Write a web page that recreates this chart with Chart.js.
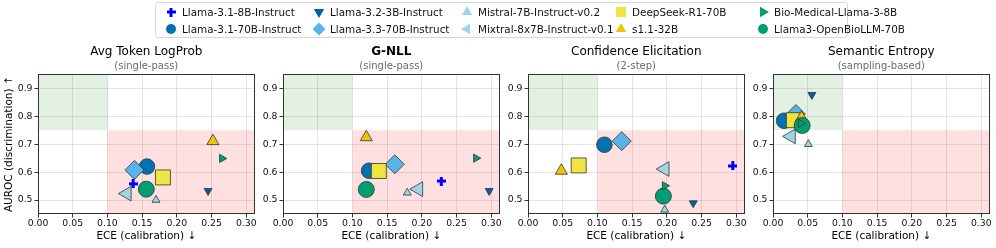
<!DOCTYPE html>
<html>
<head>
<meta charset="utf-8">
<script src="https://cdn.jsdelivr.net/npm/chart.js@4.4.1/dist/chart.umd.min.js"></script>
<style>
  html, body { margin: 0; padding: 0; background: #fff; }
  body { width: 996px; height: 248px; position: relative; overflow: hidden; font-family: 'DejaVu Sans', sans-serif; }
  .panel { position: absolute; top: 40px; }
  #legend { position: absolute; left: 155px; top: 2px; width: 693px; height: 36px; border: 1px solid #d6d6d6; border-radius: 3px; box-sizing: border-box; }
  .legend-item { position: absolute; display: flex; align-items: center; font-size: 10.4px; color: #111; white-space: nowrap; }
  .legend-item canvas { margin-right: 4px; }
</style>
</head>
<body>
<div id="legend"></div>
<canvas id="panel0" class="panel"></canvas>
<canvas id="panel1" class="panel"></canvas>
<canvas id="panel2" class="panel"></canvas>
<canvas id="panel3" class="panel"></canvas>
<script>
const MODELS = [
  'Llama-3.1-8B-Instruct',
  'Llama-3.1-70B-Instruct',
  'Llama-3.2-3B-Instruct',
  'Llama-3.3-70B-Instruct',
  'Mistral-7B-Instruct-v0.2',
  'Mixtral-8x7B-Instruct-v0.1',
  'DeepSeek-R1-70B',
  's1.1-32B',
  'Bio-Medical-Llama-3-8B',
  'Llama3-OpenBioLLM-70B',
];

const METHODS = ['Avg Token LogProb', 'G-NLL', 'Confidence Elicitation', 'Semantic Entropy'];
const METHOD_NOTES = ['(single-pass)', '(single-pass)', '(2-step)', '(sampling-based)'];

// ECE (x) and AUROC (y), one value per model in MODELS order
const ECE_LOGPROB = [0.137, 0.157, 0.245, 0.139, 0.170, 0.128, 0.180, 0.252, 0.265, 0.156];
const AUROC_LOGPROB = [0.558, 0.620, 0.533, 0.608, 0.500, 0.523, 0.581, 0.711, 0.649, 0.539];

const ECE_GNLL = [0.228, 0.124, 0.297, 0.161, 0.179, 0.195, 0.138, 0.120, 0.278, 0.120];
const AUROC_GNLL = [0.568, 0.605, 0.533, 0.628, 0.526, 0.539, 0.604, 0.725, 0.650, 0.538];

const ECE_VERBAL = [0.295, 0.110, 0.238, 0.135, 0.197, 0.197, 0.073, 0.048, 0.197, 0.195];
const AUROC_VERBAL = [0.622, 0.698, 0.489, 0.711, 0.465, 0.611, 0.624, 0.605, 0.551, 0.514];

const ECE_SEMANTIC = [0.030, 0.016, 0.056, 0.033, 0.051, 0.026, 0.030, 0.041, 0.040, 0.042];
const AUROC_SEMANTIC = [0.788, 0.784, 0.877, 0.808, 0.700, 0.728, 0.786, 0.795, 0.775, 0.767];

const ECE_BY_METHOD = [ECE_LOGPROB, ECE_GNLL, ECE_VERBAL, ECE_SEMANTIC];
const AUROC_BY_METHOD = [AUROC_LOGPROB, AUROC_GNLL, AUROC_VERBAL, AUROC_SEMANTIC];

const X_TICKS = [0, 0.05, 0.1, 0.15, 0.2, 0.25, 0.3];
const Y_TICKS = [0.5, 0.6, 0.7, 0.8, 0.9];
const X_RANGE = [0, 0.312];
const Y_RANGE = [0.45, 0.95];

// target zones: good = low ECE and high AUROC, poor = high ECE and low AUROC
const ECE_CUT = 0.1;
const AUROC_CUT = 0.75;

const EDGE = '#333333';
const MARKERS = [
  { shape: 'plus', color: '#0000ff', radius: 4.5, rotation: 0 },
  { shape: 'circle', color: '#0072b2', radius: 7.8, rotation: 0 },
  { shape: 'triangle', color: '#005fae', radius: 4.6, rotation: 180 },
  { shape: 'rectRot', color: '#56b4e9', radius: 9.5, rotation: 0 },
  { shape: 'triangle', color: '#9fd6e3', radius: 4.6, rotation: 0 },
  { shape: 'triangle', color: '#9fd6e3', radius: 8.5, rotation: 270 },
  { shape: 'rect', color: '#f0e442', radius: 10.6, rotation: 0 },
  { shape: 'triangle', color: '#f0c20a', radius: 7, rotation: 0 },
  { shape: 'triangle', color: '#009e73', radius: 4.8, rotation: 90 },
  { shape: 'circle', color: '#009e73', radius: 8, rotation: 0 },
];
// later models drawn on top; the small green flag sits above everything
const DRAW_ORDER = [9, 8, 7, 6, 5, 4, 3, 2, -1, 0];

const LEGEND_COLS = [15, 163, 311, 465, 607];
const LEGEND_ROWS = [9, 26];

Chart.defaults.font.family = "'DejaVu Sans', sans-serif";
Chart.defaults.color = '#111';

function plusImage(size, color) {
  const c = document.createElement('canvas');
  c.width = size;
  c.height = size;
  const ctx = c.getContext('2d');
  const arm = size / 3;
  ctx.fillStyle = color;
  ctx.fillRect(arm, 0, arm, size);
  ctx.fillRect(0, arm, size, arm);
  return c;
}

const PLUS = plusImage(9, MARKERS[0].color);

function pointStyleOf(m) {
  return m.shape === 'plus' ? PLUS : m.shape;
}

// small shapes for the html legend
function drawLegendIcon(ctx, m, cx, cy) {
  ctx.fillStyle = m.color;
  if (m.shape === 'plus') {
    ctx.drawImage(PLUS, cx - 4.5, cy - 4.5);
    return;
  }
  ctx.beginPath();
  if (m.shape === 'circle') {
    ctx.arc(cx, cy, 5, 0, Math.PI * 2);
  } else if (m.shape === 'rect') {
    ctx.rect(cx - 5, cy - 5, 10, 10);
  } else if (m.shape === 'rectRot') {
    ctx.moveTo(cx, cy - 6.5);
    ctx.lineTo(cx + 6.5, cy);
    ctx.lineTo(cx, cy + 6.5);
    ctx.lineTo(cx - 6.5, cy);
  } else {
    let rad = m.rotation * Math.PI / 180;
    const r = 6;
    for (let k = 0; k < 3; k++) {
      const px = cx + Math.sin(rad) * r;
      const py = cy - Math.cos(rad) * r;
      if (k === 0) ctx.moveTo(px, py); else ctx.lineTo(px, py);
      rad += Math.PI * 2 / 3;
    }
  }
  ctx.closePath();
  ctx.fill();
}

function buildLegend() {
  const box = document.getElementById('legend');
  MODELS.forEach((name, i) => {
    const item = document.createElement('div');
    item.className = 'legend-item';
    item.style.left = (LEGEND_COLS[Math.floor(i / 2)] - 7) + 'px';
    item.style.top = (LEGEND_ROWS[i % 2] - 7) + 'px';
    const icon = document.createElement('canvas');
    icon.width = 14;
    icon.height = 14;
    drawLegendIcon(icon.getContext('2d'), MARKERS[i], 7, 7);
    const label = document.createElement('span');
    label.textContent = name;
    item.appendChild(icon);
    item.appendChild(label);
    box.appendChild(item);
  });
}

const zoneShading = {
  id: 'zoneShading',
  beforeDraw(chart) {
    const { ctx, chartArea, scales: { x, y } } = chart;
    const fillZone = (x0, x1, y0, y1, color) => {
      const left = Math.max(x.getPixelForValue(x0), chartArea.left);
      const right = Math.min(x.getPixelForValue(x1), chartArea.right);
      const top = Math.max(y.getPixelForValue(y1), chartArea.top);
      const bottom = Math.min(y.getPixelForValue(y0), chartArea.bottom);
      ctx.fillStyle = color;
      ctx.fillRect(left, top, right - left, bottom - top);
    };
    ctx.save();
    fillZone(X_RANGE[0], ECE_CUT, AUROC_CUT, Y_RANGE[1], 'rgba(0, 128, 0, 0.11)');
    fillZone(ECE_CUT, X_RANGE[1], Y_RANGE[0], AUROC_CUT, 'rgba(255, 0, 0, 0.12)');
    ctx.restore();
  },
};

const frame = {
  id: 'frame',
  afterDraw(chart) {
    const { ctx, chartArea: a } = chart;
    ctx.save();
    ctx.strokeStyle = EDGE;
    ctx.lineWidth = 1;
    ctx.strokeRect(Math.round(a.left) + 0.5, Math.round(a.top) + 0.5,
      Math.round(a.right - a.left) - 1, Math.round(a.bottom - a.top) - 1);
    ctx.restore();
  },
};

const PLOT_LEFT = [38, 283, 528, 773];
const Y_AXIS_W = 38;

function makePanel(idx) {
  const canvas = document.getElementById('panel' + idx);
  canvas.width = 266;
  canvas.height = 208;
  canvas.style.left = (PLOT_LEFT[idx] - Y_AXIS_W) + 'px';

  const datasets = MODELS.map((name, m) => ({
    label: name,
    data: [{ x: ECE_BY_METHOD[idx][m], y: AUROC_BY_METHOD[idx][m] }],
    pointStyle: pointStyleOf(MARKERS[m]),
    pointRadius: MARKERS[m].radius,
    pointHoverRadius: MARKERS[m].radius,
    pointRotation: MARKERS[m].rotation,
    pointBackgroundColor: MARKERS[m].color,
    pointBorderColor: MARKERS[m].shape === 'plus' ? MARKERS[m].color : EDGE,
    pointBorderWidth: MARKERS[m].shape === 'plus' ? 0 : 0.8,
    order: DRAW_ORDER[m],
  }));

  const tickFont = { size: 9.3 };
  return new Chart(canvas, {
    type: 'scatter',
    data: { datasets },
    options: {
      responsive: false,
      animation: false,
      events: [],
      layout: { padding: { left: 0, right: 0, top: 0, bottom: 0 } },
      plugins: {
        legend: { display: false },
        tooltip: { enabled: false },
        title: {
          display: true,
          fullSize: false,
          text: METHODS[idx],
          color: '#000',
          font: { size: 12, weight: idx === 1 ? 'bold' : 'normal' },
          padding: { top: 5, bottom: 0 },
        },
        subtitle: {
          display: true,
          fullSize: false,
          text: METHOD_NOTES[idx],
          color: '#6a6a6a',
          font: { size: 10 },
          padding: { top: 1, bottom: 2 },
        },
      },
      scales: {
        x: {
          type: 'linear',
          min: X_RANGE[0],
          max: X_RANGE[1],
          afterBuildTicks: (scale) => { scale.ticks = X_TICKS.map((value) => ({ value })); },
          afterFit: (scale) => { scale.height = 34; },
          ticks: {
            font: tickFont,
            color: '#111',
            padding: 1,
            maxRotation: 0,
            autoSkip: false,
            callback: (v) => v.toFixed(2),
          },
          grid: { color: 'rgba(0, 0, 0, 0.1)', tickColor: EDGE, tickLength: 3.5 },
          border: { display: false },
          title: {
            display: true,
            text: 'ECE (calibration) ↓',
            color: '#000',
            font: { size: 10.5 },
            padding: { top: 0, bottom: 5.5 },
          },
        },
        y: {
          type: 'linear',
          min: Y_RANGE[0],
          max: Y_RANGE[1],
          afterBuildTicks: (scale) => { scale.ticks = Y_TICKS.map((value) => ({ value })); },
          afterFit: (scale) => { scale.width = Y_AXIS_W; },
          ticks: {
            font: tickFont,
            color: '#111',
            padding: 2,
            autoSkip: false,
            callback: (v) => v.toFixed(1),
          },
          grid: { color: 'rgba(0, 0, 0, 0.1)', tickColor: EDGE, tickLength: 3.5 },
          border: { display: false },
          title: {
            display: idx === 0,
            text: 'AUROC (discrimination) ↑',
            color: '#000',
            font: { size: 10.5 },
            padding: { top: 2.5, bottom: 0 },
          },
        },
      },
    },
    plugins: [zoneShading, frame],
  });
}

buildLegend();
METHODS.forEach((_, idx) => makePanel(idx));
</script>
</body>
</html>
